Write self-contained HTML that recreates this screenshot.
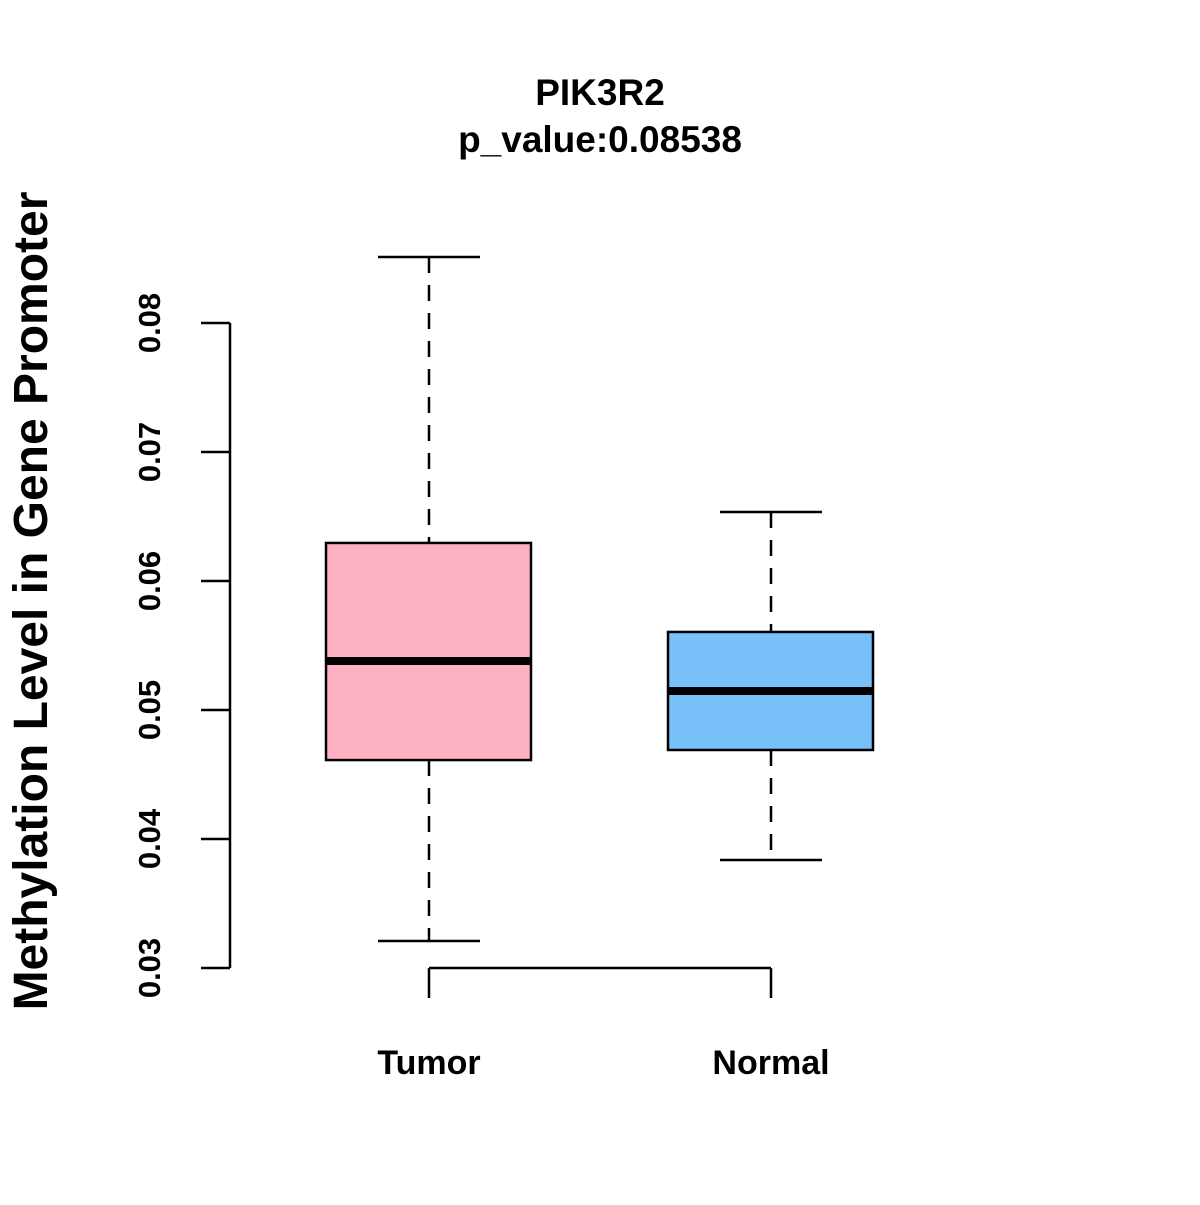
<!DOCTYPE html>
<html><head><meta charset="utf-8"><style>
html,body{margin:0;padding:0;background:#fff}
svg text{font-family:"Liberation Sans",Arial,sans-serif;font-weight:bold;fill:#000}
</style></head><body>
<svg id="chart" width="1200" height="1200" xmlns="http://www.w3.org/2000/svg">
<text x="600" y="105" font-size="37" text-anchor="middle">PIK3R2</text>
<text x="600" y="152" font-size="37" text-anchor="middle">p_value:0.08538</text>
<text transform="translate(47,601) rotate(-90)" font-size="48" text-anchor="middle">Methylation Level in Gene Promoter</text>
<g id="plot"></g>
</svg>
<script>
const categories = ["Tumor", "Normal"];
const whiskerLow = [0.03209, 0.03837];
const q1 = [0.04612, 0.0469];
const medians = [0.0538, 0.05147];
const q3 = [0.06295, 0.05605];
const whiskerHigh = [0.08512, 0.06535];
const fills = ["#fdb1c3", "#77c1f8"];
const yTicks = [0.03, 0.04, 0.05, 0.06, 0.07, 0.08];
const yTickLabels = ["0.03", "0.04", "0.05", "0.06", "0.07", "0.08"];

const NS = "http://www.w3.org/2000/svg";
const g = document.getElementById("plot");
function y(v){ return 968 - (v - 0.03) * 12900; }
function x(i){ return 429 + i * 342; }
function mk(tag, attrs){ const e = document.createElementNS(NS, tag); for (const k in attrs) e.setAttribute(k, attrs[k]); g.appendChild(e); return e; }

let ax = mk("line", {x1:230, x2:230, y1:y(yTicks[0]), y2:y(yTicks[yTicks.length-1]), stroke:"#000", "stroke-width":2.5});


yTicks.forEach((t, i) => {
  const l = mk("line", {x1:201, x2:230, y1:y(t), y2:y(t), stroke:"#000", "stroke-width":2.5});
  
  
  const tx = mk("text", {transform:`translate(160,${y(t)}) rotate(-90)`, "font-size":31, "text-anchor":"middle"});
  tx.textContent = yTickLabels[i];
  
  
});
let xa = mk("line", {x1:x(0), x2:x(categories.length-1), y1:968, y2:968, stroke:"#000", "stroke-width":2.5});


categories.forEach((c, i) => {
  const cx = x(i);
  const t = mk("line", {x1:cx, x2:cx, y1:968, y2:998, stroke:"#000", "stroke-width":2.5});
  
  
  const lb = mk("text", {x:cx, y:1074, "font-size":34, "text-anchor":"middle"});
  lb.textContent = c;
  
  
  [[whiskerHigh[i], q3[i]], [q1[i], whiskerLow[i]]].forEach(([a, b]) => {
    const w = mk("line", {x1:cx, x2:cx, y1:y(a), y2:y(b), stroke:"#000", "stroke-width":2.5, "stroke-dasharray":"16,12"});
    
    
  });
  [whiskerHigh[i], whiskerLow[i]].forEach(v => {
    const cap = mk("line", {x1:cx-51, x2:cx+51, y1:y(v), y2:y(v), stroke:"#000", "stroke-width":2.5});
    
    
  });
  const box = mk("rect", {x:cx-103, y:y(q3[i]), width:205, height:y(q1[i]) - y(q3[i]), fill:fills[i], stroke:"#000", "stroke-width":2.5});
  
  
  const m = mk("line", {x1:cx-103, x2:cx+102, y1:y(medians[i]), y2:y(medians[i]), stroke:"#000", "stroke-width":8});
  
  
});
</script>
</body></html>
